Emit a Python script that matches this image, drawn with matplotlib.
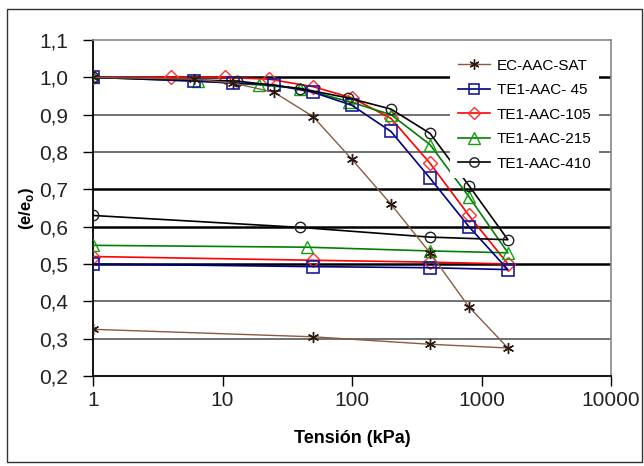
import matplotlib
matplotlib.use("Agg")
import matplotlib.pyplot as plt
from matplotlib.patches import Rectangle
from matplotlib.ticker import FixedLocator, FuncFormatter, NullLocator

plt.rcParams['font.family'] = ['Liberation Sans', 'DejaVu Sans']
plt.rcParams['mathtext.fontset'] = 'custom'
plt.rcParams['mathtext.rm'] = 'Liberation Sans'
plt.rcParams['mathtext.bf'] = 'Liberation Sans:bold'

# loading / unloading paths, tension in kPa and e/e0
sat_x = [1, 6, 12, 25, 50, 100, 200, 400, 800, 1600, 400, 50, 1]
sat_y = [1.0, 0.995, 0.985, 0.96, 0.895, 0.78, 0.66, 0.53, 0.385, 0.275, 0.285, 0.305, 0.325]

s45_x = [1, 6, 12, 25, 50, 100, 200, 400, 800, 1600, 400, 50, 1]
s45_y = [1.0, 0.99, 0.985, 0.98, 0.96, 0.925, 0.855, 0.73, 0.60, 0.485, 0.49, 0.493, 0.50]

s105_x = [1, 4, 10.5, 23, 50, 100, 200, 400, 800, 1600, 400, 50, 1]
s105_y = [1.0, 1.0, 1.0, 0.995, 0.975, 0.945, 0.89, 0.77, 0.63, 0.50, 0.505, 0.51, 0.52]

s215_x = [1, 6.5, 19, 40, 95, 200, 400, 800, 1600, 400, 45, 1]
s215_y = [1.0, 0.99, 0.98, 0.97, 0.935, 0.90, 0.82, 0.68, 0.53, 0.535, 0.545, 0.55]

s410_x = [1, 13, 40, 93, 200, 400, 800, 1600, 400, 40, 1]
s410_y = [1.0, 0.99, 0.97, 0.945, 0.915, 0.85, 0.71, 0.565, 0.572, 0.598, 0.63]

names = ['EC-AAC-SAT', 'TE1-AAC- 45', 'TE1-AAC-105', 'TE1-AAC-215', 'TE1-AAC-410']

fig = plt.figure(figsize=(6.44, 4.66), dpi=100)
fig.patches.append(Rectangle((7/644, 4/466), 635/644, 453/466, transform=fig.transFigure,
                             fill=False, edgecolor='#333333', linewidth=1.0))
ax = fig.add_axes([93/644, 1 - 376/466, 518/644, 336/466])

ax.plot(sat_x, sat_y, color='#8b5a40', lw=1.0, marker=(6, 2, 0), ms=8,
        mec='#2a1a10', mew=1.0, label=names[0], zorder=5)
ax.plot(s45_x, s45_y, color='#000080', lw=1.2, marker='s', ms=8,
        mfc='none', mec='#1a1a9a', mew=1.2, label=names[1], zorder=4)
ax.plot(s105_x, s105_y, color='#ff0000', lw=1.2, marker='D', ms=7,
        mfc='none', mec='#ff3030', mew=1.0, label=names[2], zorder=3)
ax.plot(s215_x, s215_y, color='#008000', lw=1.2, marker='^', ms=9,
        mfc='none', mec='#10a010', mew=1.0, label=names[3], zorder=3)
ax.plot(s410_x, s410_y, color='#000000', lw=1.2, marker='o', ms=7.5,
        mfc='none', mec='#202020', mew=1.0, label=names[4], zorder=4)

ax.set_xscale('log')
ax.set_xlim(1, 10000)
ax.set_ylim(0.2, 1.1)

ax.xaxis.set_major_locator(FixedLocator([1, 10, 100, 1000, 10000]))
ax.xaxis.set_minor_locator(NullLocator())
ax.xaxis.set_major_formatter(FuncFormatter(lambda v, p: '%d' % v))
ax.set_yticks([0.2, 0.3, 0.4, 0.5, 0.6, 0.7, 0.8, 0.9, 1.0, 1.1])
ax.yaxis.set_major_formatter(FuncFormatter(lambda v, p: ('%.1f' % v).replace('.', ',')))
ax.tick_params(axis='both', direction='out', length=7, width=1.0, labelsize=15,
               labelcolor='#222222')
ax.tick_params(axis='y', pad=11)
ax.tick_params(axis='x', pad=4)

# horizontal grid: some lines heavy black, others thin grey
heavy = [0.5, 0.6, 0.7, 1.0]
for g in [0.3, 0.4, 0.5, 0.6, 0.7, 0.8, 0.9, 1.0]:
    if g in heavy:
        ax.axhline(g, color='#000000', lw=1.8, zorder=1)
    else:
        ax.axhline(g, color='#666666', lw=1.3, zorder=1)

for side in ['top', 'right']:
    ax.spines[side].set_color('#888888')
    ax.spines[side].set_linewidth(1.2)
for side in ['left', 'bottom']:
    ax.spines[side].set_color('#000000')
    ax.spines[side].set_linewidth(1.3)

ax.set_xlabel('Tensión (kPa)', fontsize=13, fontweight='bold', labelpad=14)
ax.set_ylabel(r'(e/e$_\mathbf{o}$)', fontsize=12, fontweight='bold', labelpad=2)

leg = ax.legend(loc='upper right', bbox_to_anchor=(0.992, 0.99), frameon=True,
                fancybox=False, framealpha=1.0, edgecolor='white', fontsize=11,
                handlelength=2.1, labelspacing=0.69, borderpad=0.5, handletextpad=0.45,
                markerscale=0.9)
leg.get_frame().set_linewidth(0)

fig.savefig('out.png', dpi=100)
